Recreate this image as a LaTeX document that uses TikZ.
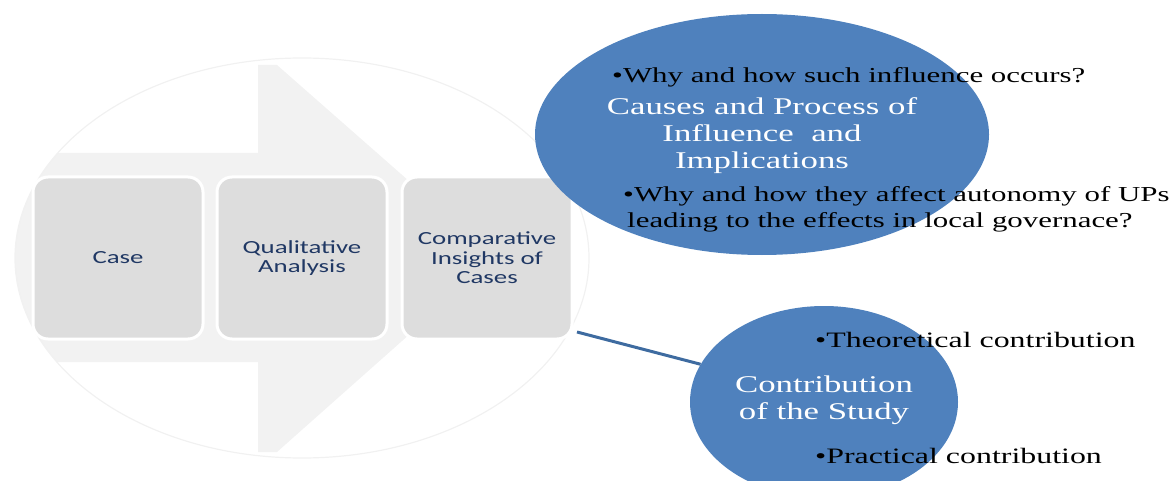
\documentclass[tikz,border=0pt]{standalone}
\usepackage{fontspec}
\usetikzlibrary{shapes.geometric}
\newfontfamily\tnrw{Liberation Serif}[FakeStretch=1.45]
\newfontfamily\calw{Carlito}[FakeStretch=1.45]
\definecolor{arrowgray}{HTML}{F2F2F2}
\definecolor{faintgray}{HTML}{F1F1F1}
\definecolor{boxgray}{HTML}{DDDDDD}
\definecolor{navy}{HTML}{203864}
\definecolor{ellblue}{HTML}{4F81BD}
\definecolor{connblue}{HTML}{3E6BA0}
\tikzset{
  stagebox/.style={draw=white, line width=3pt, fill=boxgray, rounded corners=15pt,
    minimum width=170pt, minimum height=162pt, inner sep=0pt,
    text=navy, align=center, font=\calw\fontsize{18.5}{19.5}\selectfont},
  bubble/.style={ellipse, fill=ellblue, draw=none, inner sep=0pt},
  titletext/.style={text=white, align=center, inner sep=0pt,
    font=\tnrw\fontsize{24}{27}\selectfont},
  bullettext/.style={text=black, inner sep=0pt, anchor=base west,
    font=\tnrw\fontsize{22}{26.5}\selectfont},
  smallbullet/.style={bullettext, font=\tnrw\fontsize{21.3}{26.5}\selectfont},
  conn/.style={draw=connblue, line width=3pt}
}
\begin{document}
\begin{tikzpicture}[x=1pt,y=-1pt]
\useasboundingbox (0,0) rectangle (1175,481);
% faint background ellipse and big arrow
\begin{scope}
  \clip (302,258) ellipse [x radius=287, y radius=200];
  \fill[arrowgray] (0,153) -- (258,153) -- (258,65) -- (277,65) -- (496,257.5)
    -- (277,452) -- (258,452) -- (258,362) -- (0,362) -- cycle;
\end{scope}
\draw[faintgray, line width=1.2pt] (302,258) ellipse [x radius=287, y radius=200];
% stage boxes
\node[stagebox] (box1) at (118,258) {Case};
\node[stagebox] (box2) at (302,258) {Qualitative\\Analysis};
\node[stagebox] (box3) at (487,258) {Comparative\\Insights of\\Cases};
% bubbles
\node[bubble, minimum width=454pt, minimum height=241pt] (ell1) at (762,134.5) {};
\node[bubble, minimum width=268pt, minimum height=192pt] (ell2) at (824,402) {};
% connector
\coordinate (cstart) at (577,332);
\draw[conn] (cstart) -- (ell2.163);
% texts of bubble 1
\node[titletext] (t1) at (762,135.5) {Causes and Process of\\Influence\ \ and\\Implications};
\node[smallbullet] (b1) at (612,83) {•Why and how such influence occurs?};
\node[smallbullet] (b2a) at (623,201.5) {•Why and how they affect autonomy of UPs};
\node[smallbullet] (b2b) at (627,228) {leading to the effects in local governace?};
% texts of bubble 2
\node[titletext] (t2) at (824,400.5) {Contribution\\of the Study};
\node[bullettext] (b3) at (815,347) {•Theoretical contribution};
\node[bullettext] (b4) at (815,463) {•Practical contribution};
\end{tikzpicture}
\end{document}
